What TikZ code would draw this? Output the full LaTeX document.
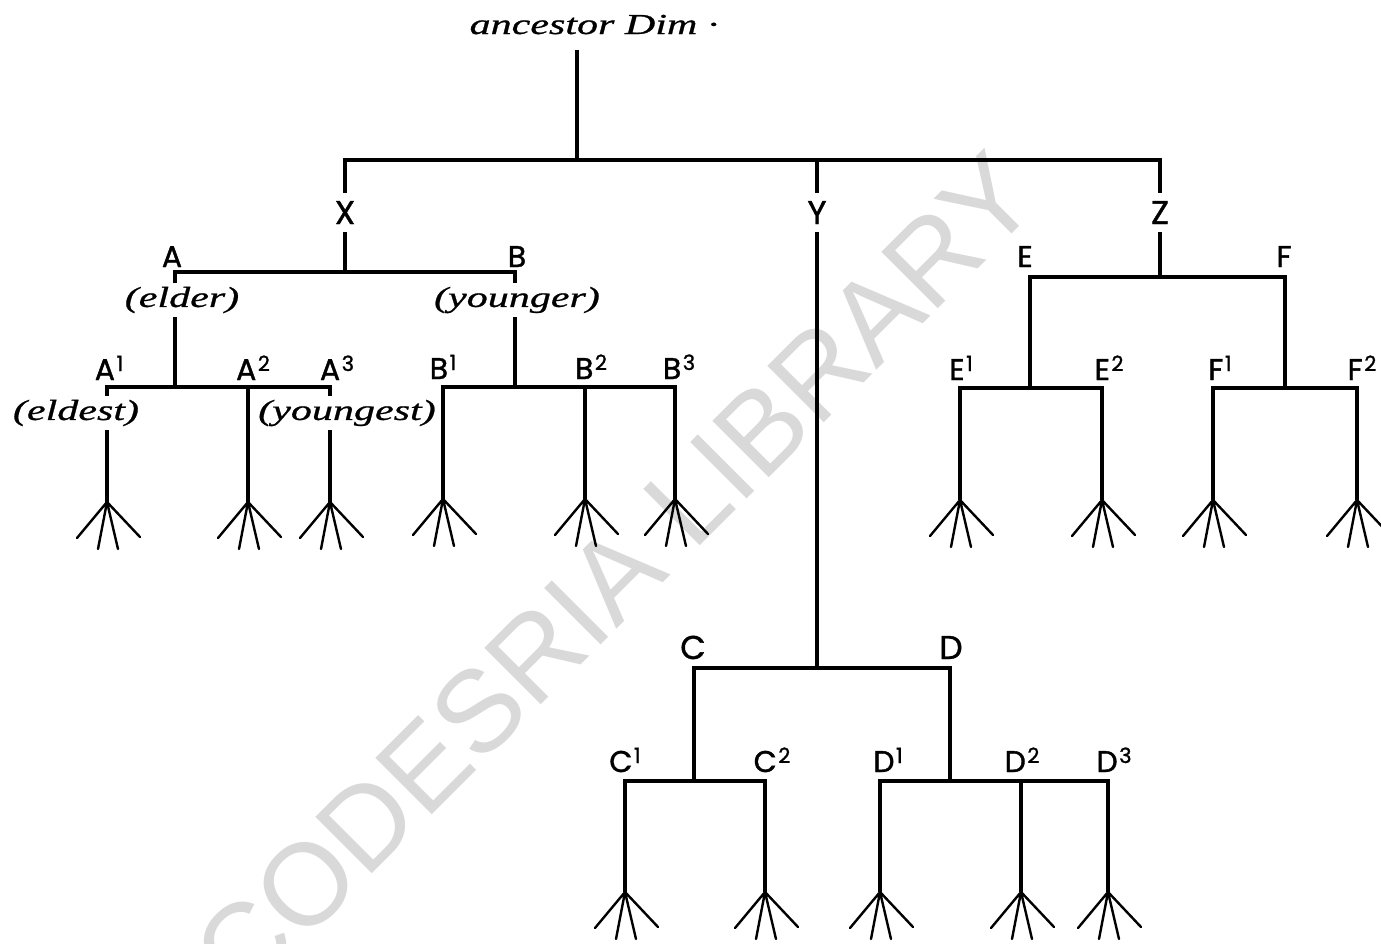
\documentclass[tikz,border=0pt]{standalone}
\usepackage{fontspec}
\newfontfamily\labfont{Poppins}[FakeBold=1.2]
\newfontfamily\italfont{Liberation Serif}[FakeStretch=1.45,FakeBold=0.8]
\newfontfamily\wmfont{Liberation Sans}
\newcommand\spx[1]{\raisebox{9pt}{\fontsize{21}{21}\selectfont\kern1.5pt#1}}
\tikzset{
  ln/.style={line width=3.4pt, line join=miter},
  fanln/.style={line width=2.4pt, line cap=round},
  lab/.style={font=\labfont\fontsize{30}{30}\selectfont, anchor=base, inner sep=8pt},
  biglab/.style={font=\labfont\fontsize{33}{33}\selectfont, anchor=base, inner sep=8pt},
  ital/.style={font=\italfont\itshape\fontsize{29}{29}\selectfont, inner sep=4pt},
  wm/.style={font=\wmfont\fontsize{116}{116}\selectfont, text=black!15, rotate=45},
  fan/.pic={\draw[fanln] (0,0) -- (-30,36) (0,0) -- (-9,47) (0,0) -- (11,47) (0,0) -- (33,35);}
}
\begin{document}
\begin{tikzpicture}[x=1pt,y=-1pt]
\fill[white] (0,0) rectangle (1381,943);
\useasboundingbox (0,0) rectangle (1381,943);
% watermark
\node[wm] (wmk) at (615,575) {CODESRIA LIBRARY};
% root
\node[ital, anchor=base, font=\italfont\itshape\fontsize{29}{29}\selectfont] (anc) at (594,34) {ancestor Dim ·};
\coordinate (r0) at (577,50);
\coordinate (r1) at (577,160);
\coordinate (ty) at (817,160);
\coordinate (tz) at (1160,160);
\node[biglab] (X) at (345,224) {X};
\node[biglab] (Y) at (817,224) {Y};
\node[biglab] (Z) at (1160,224) {Z};
\draw[ln] (r0) -- (r1);
\draw[ln] (X.north) |- (tz) -- (Z.north);
\draw[ln] (ty) -- (Y.north);
% X branch
\coordinate (xj) at (345,272);
\coordinate (xa) at (175,272);
\coordinate (xb) at (515,272);
\node[lab] (A) at (172,267) {A};
\node[lab] (B) at (517,267) {B};
\node[ital] (elder) at (182,300) {(elder)};
\node[ital] (younger) at (517,300) {(younger)};
\draw[ln] (X.south) -- (xj);
\draw[ln] (elder.north -| xa) -- (xa) -- (xb) -- (younger.north -| xb);
% A children
\coordinate (aj) at (175,387);
\coordinate (a1) at (107,387);
\coordinate (a2) at (248,387);
\coordinate (a3) at (330,387);
\coordinate (a1f) at (107,502);
\coordinate (a2f) at (248,502);
\coordinate (a3f) at (330,502);
\node[lab] (A1) at (109,380) {A\spx{1}};
\node[lab] (A2) at (253,380) {A\spx{2}};
\node[lab] (A3) at (337,380) {A\spx{3}};
\node[ital] (eldest) at (76,413) {(eldest)};
\node[ital] (youngest) at (347,413) {(youngest)};
\draw[ln] (elder.south -| xa) -- (aj);
\draw[ln] (eldest.north -| a1) -- (a1) -- (a3) -- (youngest.north -| a3);
\draw[ln] (eldest.south -| a1) -- (a1f);
\draw[ln] (a2) -- (a2f);
\draw[ln] (youngest.south -| a3) -- (a3f);
% B children
\coordinate (bj) at (515,387);
\coordinate (b1) at (443,387);
\coordinate (b2) at (585,387);
\coordinate (b3) at (675,387);
\coordinate (b1f) at (443,499);
\coordinate (b2f) at (585,499);
\coordinate (b3f) at (675,499);
\node[lab] (B1) at (443,379) {B\spx{1}};
\node[lab] (B2) at (591,379) {B\spx{2}};
\node[lab] (B3) at (679,379) {B\spx{3}};
\draw[ln] (younger.south -| xb) -- (bj);
\draw[ln] (b1f) -- (b1) -- (b3) -- (b3f);
\draw[ln] (b2) -- (b2f);
% Z branch
\coordinate (zj) at (1160,277);
\coordinate (e) at (1030,277);
\coordinate (f) at (1285,277);
\node[lab] (E) at (1025,267) {E};
\node[lab] (F) at (1284,267) {F};
\draw[ln] (Z.south) -- (zj);
\coordinate (ej) at (1030,388);
\coordinate (fj) at (1285,388);
\draw[ln] (ej) -- (e) -- (f) -- (fj);
\coordinate (e1) at (960,388);
\coordinate (e2) at (1102,388);
\coordinate (f1) at (1213,388);
\coordinate (f2) at (1357,388);
\coordinate (e1f) at (960,500);
\coordinate (e2f) at (1102,500);
\coordinate (f1f) at (1213,500);
\coordinate (f2f) at (1357,500);
\node[lab] (E1) at (961,380) {E\spx{1}};
\node[lab] (E2) at (1109,380) {E\spx{2}};
\node[lab] (F1) at (1220,380) {F\spx{1}};
\node[lab] (F2) at (1362,380) {F\spx{2}};
\draw[ln] (e1f) -- (e1) -- (e2) -- (e2f);
\draw[ln] (f1f) -- (f1) -- (f2) -- (f2f);
% Y branch
\coordinate (yb) at (817,668);
\coordinate (c) at (694,668);
\coordinate (d) at (950,668);
\coordinate (cj) at (694,781);
\coordinate (dj) at (950,781);
\node[biglab] (C) at (693,659) {C};
\node[biglab] (D) at (951,659) {D};
\draw[ln] (Y.south) -- (yb);
\draw[ln] (cj) -- (c) -- (d) -- (dj);
\coordinate (c1) at (625,781);
\coordinate (c2) at (765,781);
\coordinate (d1) at (880,781);
\coordinate (d2) at (1021,781);
\coordinate (d3) at (1108,781);
\coordinate (c1f) at (625,892);
\coordinate (c2f) at (765,892);
\coordinate (d1f) at (880,892);
\coordinate (d2f) at (1021,892);
\coordinate (d3f) at (1108,892);
\node[lab] (C1) at (625,772) {C\spx{1}};
\node[lab] (C2) at (772,772) {C\spx{2}};
\node[lab] (D1) at (888,772) {D\spx{1}};
\node[lab] (D2) at (1022,772) {D\spx{2}};
\node[lab] (D3) at (1114,772) {D\spx{3}};
\draw[ln] (c1f) -- (c1) -- (c2) -- (c2f);
\draw[ln] (d1f) -- (d1) -- (d3) -- (d3f);
\draw[ln] (d2) -- (d2f);
% fans
\foreach \p in {a1f,a2f,a3f,b1f,b2f,b3f,e1f,e2f,f1f,f2f,c1f,c2f,d1f,d2f,d3f}
  \pic at (\p) {fan};
\end{tikzpicture}
\end{document}
